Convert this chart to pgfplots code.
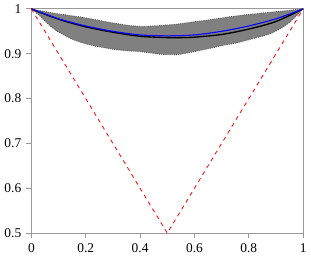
\documentclass[border=0pt]{standalone}
\usepackage{fontspec}
\setmainfont{Liberation Serif}
\usepackage{pgfplots}
\usepgfplotslibrary{fillbetween}
\pgfplotsset{compat=1.18}
\begin{document}
\begin{tikzpicture}
\begin{axis}[
  scale only axis,
  width=202.5pt, height=167pt,
  xmin=0, xmax=1, ymin=0.5, ymax=1,
  xtick pos=bottom, ytick pos=left,
  tick align=outside,
  xtick={0,0.2,0.4,0.6,0.8,1},
  ytick={0.5,0.6,0.7,0.8,0.9,1},
  xticklabels={0,0.2,0.4,0.6,0.8,1},
  yticklabels={0.5,0.6,0.7,0.8,0.9,1},
  axis line style={gray!80, line width=0.8pt},
  major tick style={gray!80, line width=0.8pt},
  major tick length=4pt,
  font=\fontsize{10}{12}\selectfont,
  /pgf/number format/assume math mode=true,
]
\addplot[name path=U, draw=black!70, densely dotted, line width=0.6pt, smooth, forget plot] coordinates {
(0,1) (0.079,0.991) (0.20,0.980) (0.288,0.970) (0.362,0.963) (0.41,0.961) (0.472,0.963) (0.535,0.966) (0.594,0.971) (0.657,0.976) (0.761,0.985) (0.885,0.993) (1,1)
};
\addplot[name path=L, draw=black!70, densely dotted, line width=0.6pt, smooth, forget plot] coordinates {
(0,1) (0.03,0.985) (0.079,0.957) (0.14,0.935) (0.20,0.922) (0.262,0.914) (0.325,0.908) (0.41,0.904) (0.472,0.899) (0.535,0.898) (0.594,0.904) (0.657,0.912) (0.70,0.918) (0.761,0.925) (0.823,0.935) (0.885,0.946) (0.946,0.968) (1,1)
};
\addplot[gray, forget plot] fill between[of=U and L];
\addplot[black, line width=1pt, smooth] coordinates {
(0,1) (0.1,0.977) (0.2,0.960) (0.3,0.948) (0.4,0.939) (0.5,0.936) (0.55,0.936) (0.6,0.937) (0.7,0.943) (0.8,0.955) (0.9,0.972) (1,1)
};
\addplot[blue, line width=0.8pt, smooth] coordinates {
(0,1) (0.1,0.978) (0.2,0.962) (0.3,0.950) (0.4,0.942) (0.5,0.940) (0.6,0.942) (0.7,0.950) (0.8,0.962) (0.9,0.978) (1,1)
};
\addplot[red, dashed, line width=0.6pt] coordinates {(0,1) (0.5,0.5) (1,1)};
\end{axis}
\end{tikzpicture}
\end{document}
